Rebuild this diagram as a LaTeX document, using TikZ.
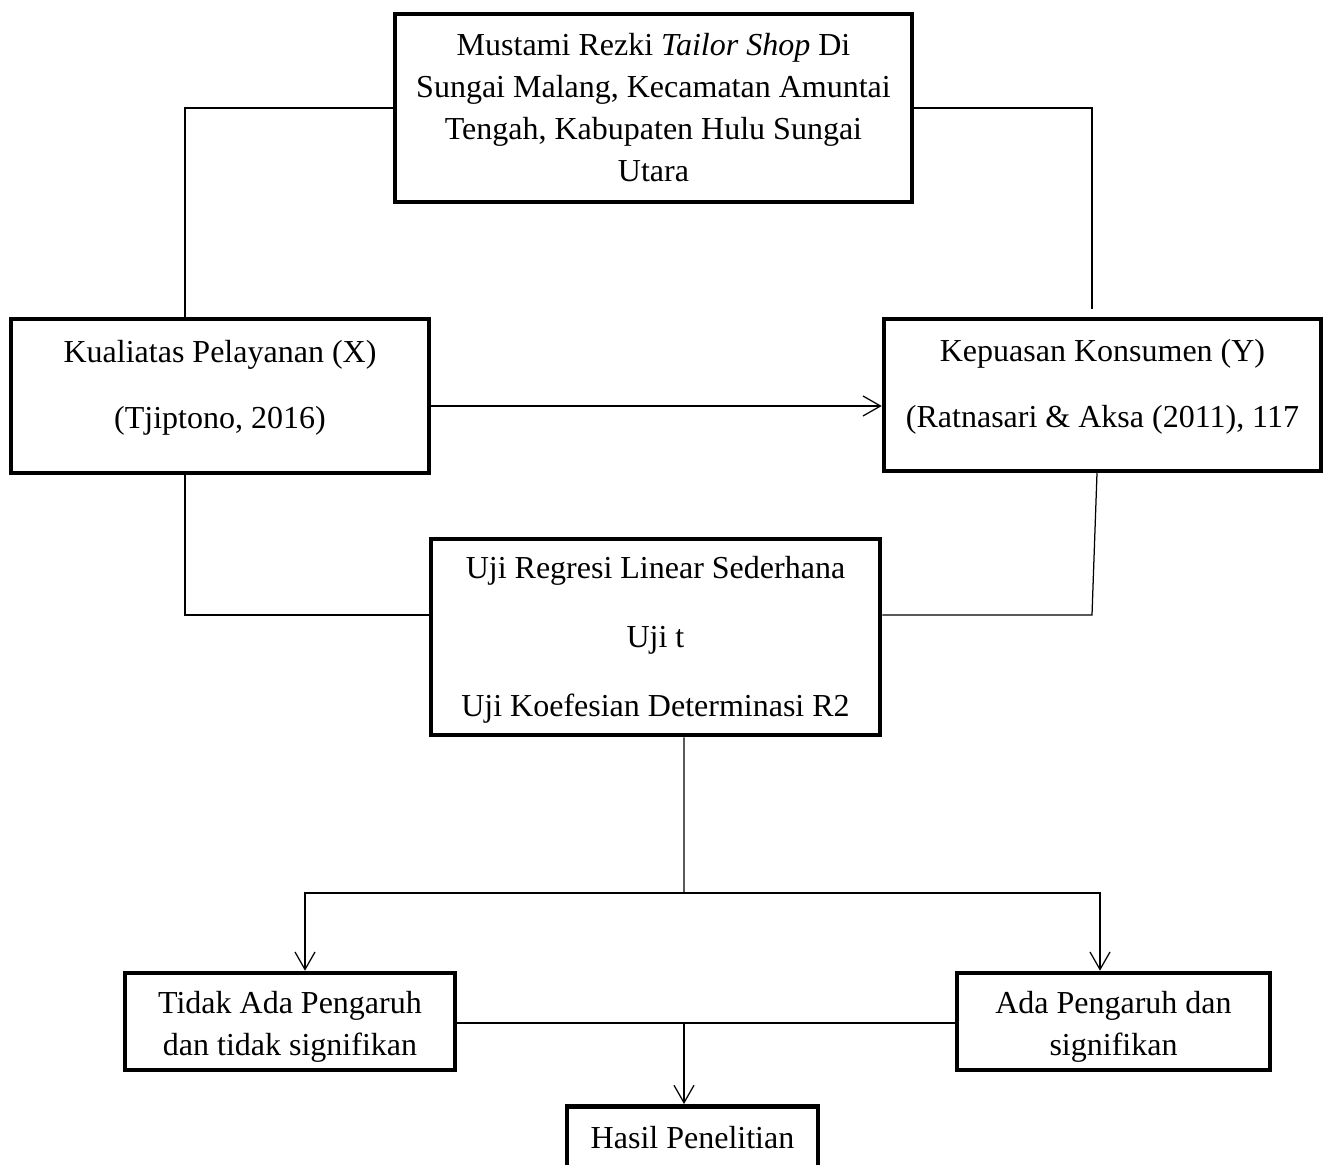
\documentclass[tikz,border=0pt]{standalone}
\usepackage{fontspec}
\setmainfont{Liberation Serif}
\usetikzlibrary{arrows.meta}

\newcommand{\lowstrut}[1]{\rule[-#1]{0pt}{#1}}
\newcommand{\highstrut}[1]{\rule{0pt}{#1}}

\begin{document}
\begin{tikzpicture}[x=0.4pt,y=-0.4pt,>={Straight Barb[length=7pt,width=8pt]},line width=0.5pt,
    main box/.style={rectangle,draw,line width=1.8pt,align=center,inner sep=0pt,font=\fontsize{12.8}{16.8}\selectfont}]

            \useasboundingbox (0,0) rectangle (1329,1165);

            \node[main box, minimum width=206.8pt, minimum height=75.2pt] (rezki) at (653.5,108) {Mustami Rezki \textit{Tailor Shop} Di\\Sungai Malang, Kecamatan Amuntai\\Tengah, Kabupaten Hulu Sungai\\Utara};

            \node[main box, minimum width=167.2pt, minimum height=61.6pt] (kualitas) at (220,396) {Kualiatas Pelayanan (X)\\[9.6pt](Tjiptono, 2016)\lowstrut{9.2pt}};
            \node[main box, minimum width=174.8pt, minimum height=60.8pt] (kepuasan) at (1102.5,395) {Kepuasan Konsumen (Y)\\[9.6pt](Ratnasari \& Aksa (2011), 117\lowstrut{9.2pt}};

            \node[main box, minimum width=179.6pt, minimum height=78.4pt] (uji) at (655.5,637) {\highstrut{11.5pt}Uji Regresi Linear Sederhana\\[10.8pt]Uji t\\[10.8pt]Uji Koefesian Determinasi R2};

            \node[main box, minimum width=132pt, minimum height=38.8pt] (tidak) at (290,1021.5) {\highstrut{13.5pt}Tidak Ada Pengaruh\\dan tidak signifikan};
            \node[main box, minimum width=125.2pt, minimum height=38.8pt] (ada) at (1113.5,1021.5) {\highstrut{13.5pt}Ada Pengaruh dan\\signifikan};

            \node[main box, minimum width=100.4pt, minimum height=35pt, anchor=north] (hasil) at (692.5,1104) {Hasil Penelitian\lowstrut{10pt}};

            \coordinate (kbend) at (1092,615);
            \coordinate (split) at (684,893);
            \coordinate (join) at (684,1023);

            \draw (rezki.west) -| ([xshift=-14pt]kualitas.north);
            \draw (rezki.east) -| ([xshift=-4.2pt,yshift=3pt]kepuasan.north);

            \draw ([xshift=-14pt]kualitas.south) |- ([yshift=8.8pt]uji.west);
            \draw ([xshift=-2.2pt]kepuasan.south) -- (kbend) -- (kbend -| uji.east);

            \draw[->] ([yshift=-4pt]kualitas.east) -- ([yshift=-4pt]kualitas.east -| kepuasan.west);

            \draw ([xshift=11.4pt]uji.south) -- (split);
            \draw[->] (split) -| ([xshift=6pt]tidak.north);
            \draw[->] (split) -| ([xshift=-5.4pt]ada.north);

            \draw (join -| tidak.east) -- (join -| ada.west);
            \draw[->] (join) -- (join |- hasil.north);
        \end{tikzpicture}
\end{document}
